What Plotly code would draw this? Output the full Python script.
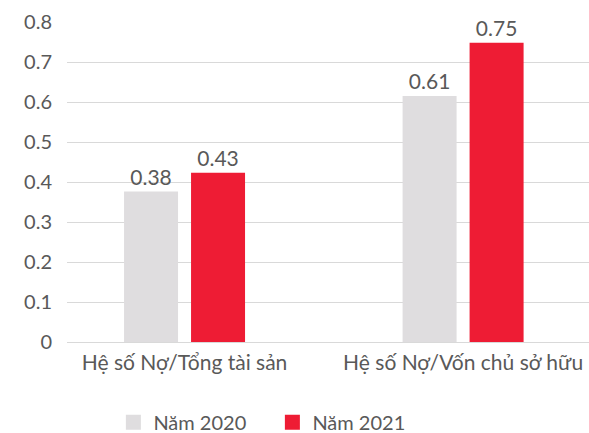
import plotly.graph_objects as go

categories = ["Hệ số Nợ/Tổng tài sản", "Hệ số Nợ/Vốn chủ sở hữu"]
series_names = ["Năm 2020", "Năm 2021"]
values_2020 = [0.376, 0.615]
values_2021 = [0.423, 0.748]
labels_2020 = ["0.38", "0.61"]
labels_2021 = ["0.43", "0.75"]
y_ticks = [0, 0.1, 0.2, 0.3, 0.4, 0.5, 0.6, 0.7, 0.8]
y_tick_text = ["0", "0.1", "0.2", "0.3", "0.4", "0.5", "0.6", "0.7", "0.8"]

FONT = "Lato, 'Open Sans', sans-serif"
TXT = "#595959"
GRAY = "#dfdddf"
RED = "#ee1c34"

fig = go.Figure()
for name, vals, labs, col in [
    (series_names[0], values_2020, labels_2020, GRAY),
    (series_names[1], values_2021, labels_2021, RED),
]:
    fig.add_trace(go.Bar(
        x=categories, y=vals, name=name, marker_color=col,
        marker_line_width=0, showlegend=False, legendgroup=name,
        text=labs, textposition="outside", constraintext="none",
        textfont=dict(family=FONT, size=21, color=TXT),
        cliponaxis=False,
    ))
# legend entries with 15px square swatches
for name, col in [(series_names[0], GRAY), (series_names[1], RED)]:
    fig.add_trace(go.Scatter(
        x=[None], y=[None], mode="markers", name=name, legendgroup=name,
        marker=dict(symbol="square", size=15, color=col, line=dict(width=0)),
        showlegend=True, hoverinfo="skip",
    ))

fig.update_layout(
    width=589, height=433,
    margin=dict(l=67, r=0, t=22, b=91, autoexpand=False),
    paper_bgcolor="white", plot_bgcolor="white",
    barmode="group", bargap=0.519, bargroupgap=0.194,
    font=dict(family=FONT, size=20, color=TXT),
    showlegend=True,
    legend=dict(orientation="h", xref="container", x=0.1925, xanchor="left",
                yref="container", y=0.025, yanchor="middle",
                font=dict(family=FONT, size=20, color=TXT),
                entrywidth=114, entrywidthmode="pixels",
                itemwidth=30, traceorder="normal"),
    xaxis=dict(range=[-0.422, 1.452], showgrid=False, showline=False,
               ticks="", automargin=False, ticklabelstandoff=6,
               tickfont=dict(family=FONT, size=21, color=TXT)),
    yaxis=dict(range=[0, 0.8], tickvals=y_ticks, ticktext=y_tick_text,
               showgrid=True, gridcolor="#d9d9d9", gridwidth=1,
               zeroline=True, zerolinecolor="#d9d9d9", zerolinewidth=1,
               showline=False, ticks="", ticklabelstandoff=14, automargin=False,
               tickfont=dict(family=FONT, size=20, color=TXT)),
)

fig.write_html("out.html", config={"displayModeBar": False},
               post_script="document.body.style.margin='0';document.body.style.overflow='hidden';")
